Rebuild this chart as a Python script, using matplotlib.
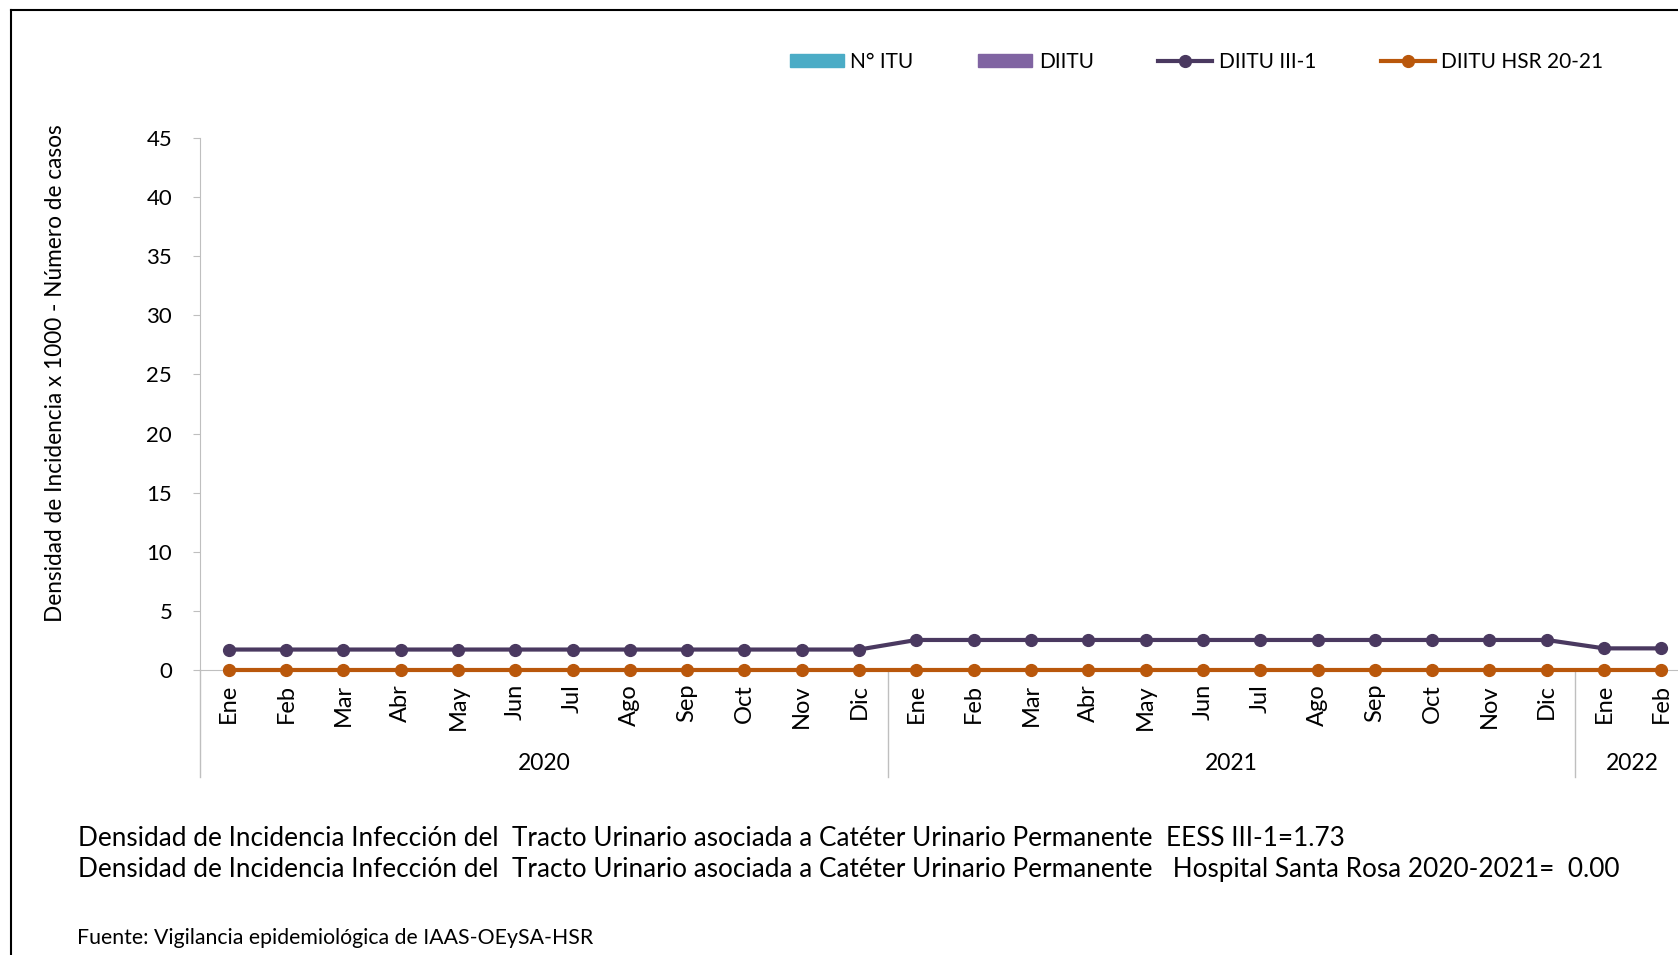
import numpy as np
import matplotlib.pyplot as plt
from matplotlib.lines import Line2D
from matplotlib.patches import Patch

plt.rcParams['font.family'] = ['Lato', 'DejaVu Sans']

meses = ["Ene", "Feb", "Mar", "Abr", "May", "Jun", "Jul", "Ago", "Sep", "Oct", "Nov", "Dic",
         "Ene", "Feb", "Mar", "Abr", "May", "Jun", "Jul", "Ago", "Sep", "Oct", "Nov", "Dic",
         "Ene", "Feb"]
anios = ["2020", "2021", "2022"]
meses_por_anio = [12, 12, 2]

n_itu = [0] * 26
diitu = [0] * 26
diitu_iii1 = [1.73] * 12 + [2.54] * 12 + [1.83] * 2
diitu_hsr = [0.0] * 26

c_itu = "#4BACC6"
c_diitu = "#8064A2"
c_iii1 = "#4A3960"
c_hsr = "#B9570B"
gris = "#BFBFBF"

fig = plt.figure(figsize=(16.78, 9.55), dpi=100)
ax = fig.add_axes([200 / 1678, 285 / 955, 1490 / 1678, 532 / 955])

x = np.arange(len(meses))
ax.bar(x - 0.18, n_itu, width=0.35, color=c_itu)
ax.bar(x + 0.18, diitu, width=0.35, color=c_diitu)
ax.plot(x, diitu_iii1, color=c_iii1, lw=3, marker="o", ms=8.5, clip_on=False, zorder=3)
ax.plot(x, diitu_hsr, color=c_hsr, lw=3, marker="o", ms=8.5, clip_on=False, zorder=4)

ax.set_xlim(-0.5, 25.5)
ax.set_ylim(0, 45)
ax.set_yticks(range(0, 50, 5))
ax.tick_params(axis="y", length=5, color=gris, pad=15, labelsize=16)
ax.set_xticks(x)
ax.set_xticklabels(meses, rotation=90, va="top", ha="center")
ax.tick_params(axis="x", length=0, pad=10, labelsize=17)
for s in ["top", "right"]:
    ax.spines[s].set_visible(False)
ax.spines["left"].set_color(gris)
ax.spines["bottom"].set_color(gris)

fig.text(56 / 1678, 1 - 373 / 955, "Densidad de Incidencia x 1000 - Número de casos",
         rotation=90, ha="center", va="center", fontsize=16.3)

# separadores y etiquetas de año
trans = ax.get_xaxis_transform()
y_bajo = -107 / 532
ax.plot([-0.5, -0.5], [0, y_bajo], color=gris, lw=1, transform=trans, clip_on=False)
ini = 0
for anio, n in zip(anios, meses_por_anio):
    fin = ini + n
    if ini > 0:
        ax.plot([ini - 0.5, ini - 0.5], [0, y_bajo], color=gris, lw=1, transform=trans, clip_on=False)
    ax.text((ini + fin - 1) / 2, -93 / 532, anio, transform=trans, ha="center", va="center", fontsize=16.5)
    ini = fin

handles = [Patch(color=c_itu), Patch(color=c_diitu),
           Line2D([], [], color=c_iii1, lw=3, marker="o", ms=8.5),
           Line2D([], [], color=c_hsr, lw=3, marker="o", ms=8.5)]
labels = ["N° ITU", "DIITU", "DIITU III-1", "DIITU HSR 20-21"]
fig.legend(handles, labels, loc="center left", bbox_to_anchor=(790 / 1678, 1 - 62 / 955),
           ncol=4, frameon=False, fontsize=15, borderpad=0, borderaxespad=0,
           columnspacing=3.1, handlelength=2.6, handletextpad=0.3, handleheight=0.6)

fig.text(78 / 1678, 1 - 838 / 955,
         "Densidad de Incidencia Infección del  Tracto Urinario asociada a Catéter Urinario Permanente  EESS III-1=1.73",
         fontsize=18.8, va="center")
fig.text(78 / 1678, 1 - 869 / 955,
         "Densidad de Incidencia Infección del  Tracto Urinario asociada a Catéter Urinario Permanente   Hospital Santa Rosa 2020-2021=  0.00",
         fontsize=18.8, va="center")
fig.text(77 / 1678, 1 - 938 / 955, "Fuente: Vigilancia epidemiológica de IAAS-OEySA-HSR",
         fontsize=15.3, va="center")

# marco exterior
fig.add_artist(Line2D([11 / 1678, 11 / 1678], [1 - 10 / 955, -0.1], color="black", lw=1.5,
                      transform=fig.transFigure))
fig.add_artist(Line2D([11 / 1678, 1.1], [1 - 10 / 955, 1 - 10 / 955], color="black", lw=1.5,
                      transform=fig.transFigure))

fig.savefig("out.png", dpi=100)
